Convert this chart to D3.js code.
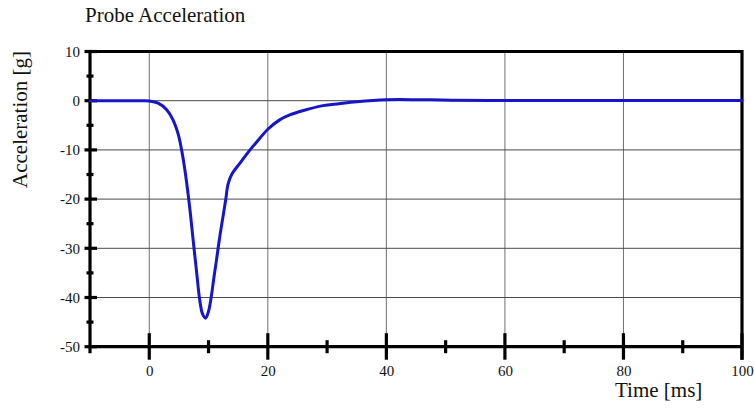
<!DOCTYPE html>
<html>
<head>
<meta charset="utf-8">
<script src="https://cdn.jsdelivr.net/npm/d3@7"></script>
<style>
  body { margin: 0; background: #fff; }
  svg text { font-family: "Liberation Serif", "Times New Roman", serif; fill: #111; }
</style>
</head>
<body>
<svg id="chart" width="754" height="408"></svg>
<script>
// Probe acceleration trace (time in ms, acceleration in g)
const timeMs = [-10, -5, -1, 0, 1.5, 2.9, 4.0, 4.9, 5.5, 6.0, 6.8, 7.4, 8.0, 8.5, 9.0, 9.5, 10.0, 10.5, 10.9, 11.35, 11.9, 12.45, 12.9, 13.3, 13.9, 15.3, 17.0, 18.4, 20.0, 22.0, 23.7, 26.0, 29.3, 32.0, 35.0, 40.0, 45.6, 51.0, 60.0, 70.0, 80.0, 90.0, 100.0];
const accelG = [0, 0, 0, -0.05, -0.5, -1.8, -3.9, -6.9, -10.3, -14.0, -21.5, -28.3, -35.0, -40.4, -43.4, -44.2, -42.8, -39.5, -36.0, -32.3, -27.6, -23.5, -20.1, -16.9, -15.0, -12.7, -10.0, -8.0, -5.8, -3.9, -2.9, -2.0, -1.0, -0.6, -0.2, 0.2, 0.2, 0.1, 0.05, 0.05, 0.05, 0.05, 0.05];

const xTickValues = [0, 20, 40, 60, 80, 100];
const xMinorTickValues = [10, 30, 50, 70, 90];
const yTickValues = [-50, -40, -30, -20, -10, 0, 10];
const yMinorTickValues = [-45, -35, -25, -15, -5, 5];
const xGridValues = [0, 20, 40, 60, 80];
const yGridValues = [-40, -30, -20, -10, 0];

const serif = '"Liberation Serif", "Times New Roman", serif';
const svg = d3.select("#chart");
const x = d3.scaleLinear().domain([-10, 100]).range([90, 742]);
const y = d3.scaleLinear().domain([-50, 10]).range([346.7, 51.5]);

// grid
svg.append("g").selectAll("line").data(xGridValues).join("line")
  .attr("x1", d => x(d)).attr("x2", d => x(d))
  .attr("y1", y(10)).attr("y2", y(-50))
  .attr("stroke", "#707070").attr("stroke-width", 1);
svg.append("g").selectAll("line").data(yGridValues).join("line")
  .attr("x1", x(-10)).attr("x2", x(100))
  .attr("y1", d => y(d)).attr("y2", d => y(d))
  .attr("stroke", "#4a4a4a").attr("stroke-width", 1);

// frame
const frame = svg.append("g").attr("stroke", "#000").attr("stroke-width", 3.2).attr("fill", "none");
frame.append("line").attr("x1", x(-10)).attr("x2", x(100)).attr("y1", y(10)).attr("y2", y(10));
frame.append("line").attr("x1", x(-10)).attr("x2", x(100)).attr("y1", y(-50)).attr("y2", y(-50));
frame.append("line").attr("x1", x(-10)).attr("x2", x(-10)).attr("y1", y(10) - 1.5).attr("y2", y(-50) + 6.5);
frame.append("line").attr("x1", x(100)).attr("x2", x(100)).attr("y1", y(10) - 1.5).attr("y2", y(-50) + 13);

// ticks on the y axis
frame.append("g").selectAll("line").data(yTickValues).join("line")
  .attr("x1", x(-10) - 5.5).attr("x2", x(-10) + 7)
  .attr("y1", d => y(d)).attr("y2", d => y(d));
frame.append("g").selectAll("line").data(yMinorTickValues).join("line")
  .attr("x1", x(-10) - 3.5).attr("x2", x(-10) + 3.5)
  .attr("y1", d => y(d)).attr("y2", d => y(d));

// ticks on the x axis
frame.append("g").selectAll("line").data(xTickValues).join("line")
  .attr("x1", d => x(d)).attr("x2", d => x(d))
  .attr("y1", y(-50) - 13.5).attr("y2", y(-50) + 13);
frame.append("g").selectAll("line").data(xMinorTickValues).join("line")
  .attr("x1", d => x(d)).attr("x2", d => x(d))
  .attr("y1", y(-50) - 6.5).attr("y2", y(-50) + 6.5);

// tick labels through d3 axes
const yAxis = d3.axisLeft(y).tickValues(yTickValues).tickSize(0).tickPadding(0).tickFormat(d => String(d));
const gy = svg.append("g").attr("transform", `translate(${x(-10) - 10},0)`).call(yAxis);
gy.attr("font-family", null);
gy.select(".domain").remove();
gy.selectAll("text").style("font-family", serif).style("font-size", "15px").style("fill", "#111");

const xAxis = d3.axisBottom(x).tickValues(xTickValues).tickSize(0).tickPadding(0).tickFormat(d => String(d));
const gx = svg.append("g").attr("transform", `translate(0,${y(-50) + 19})`).call(xAxis);
gx.attr("font-family", null);
gx.select(".domain").remove();
gx.selectAll("text").style("font-family", serif).style("font-size", "15px").style("fill", "#111");

// data line
const line = d3.line().x((d, i) => x(timeMs[i])).y(d => y(d)).curve(d3.curveCatmullRom.alpha(0.5));
svg.append("path").datum(accelG)
  .attr("d", line)
  .attr("fill", "none")
  .attr("stroke", "#1616c8")
  .attr("stroke-width", 3)
  .attr("stroke-linejoin", "round")
  .attr("stroke-linecap", "round");

// titles
svg.append("text").attr("x", 85).attr("y", 22.3).style("font-size", "21px").text("Probe Acceleration");
svg.append("text").attr("x", 615).attr("y", 397).style("font-size", "21px").text("Time [ms]");
svg.append("text")
  .attr("transform", `translate(27,${(51 + 188) / 2}) rotate(-90)`)
  .attr("text-anchor", "middle")
  .style("font-size", "21px")
  .text("Acceleration [g]");
</script>
</body>
</html>
